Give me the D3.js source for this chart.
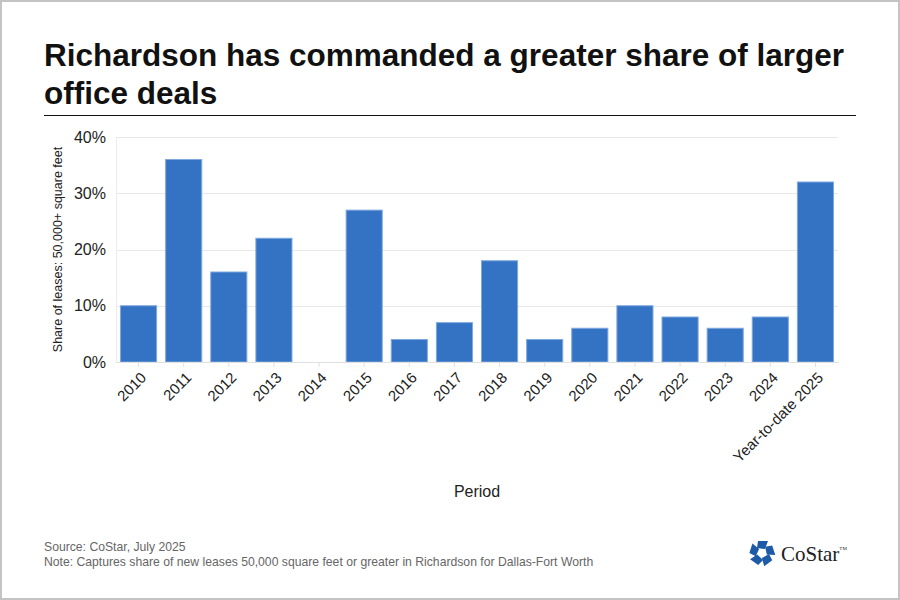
<!DOCTYPE html>
<html>
<head>
<meta charset="utf-8">
<script src="https://cdn.jsdelivr.net/npm/d3@7"></script>
<style>
  body { margin: 0; background: #fff; }
  svg { display: block; font-family: "Liberation Sans", Arial, sans-serif; }
</style>
</head>
<body>
<div id="chart"></div>
<script>
const periods = ["2010", "2011", "2012", "2013", "2014", "2015", "2016", "2017", "2018",
                 "2019", "2020", "2021", "2022", "2023", "2024", "Year-to-date 2025"];
const shares = [10, 36, 16, 22, 0, 27, 4, 7, 18, 4, 6, 10, 8, 6, 8, 32];
const yTicks = [0, 10, 20, 30, 40];

const W = 900, H = 600;
const margin = { top: 137, right: 62, bottom: 238, left: 116 };
const width = W - margin.left - margin.right;
const height = H - margin.top - margin.bottom;

const root = d3.select("#chart")
  .append("svg")
  .attr("width", W)
  .attr("height", H);

// outer frame
root.append("rect")
  .attr("x", 1).attr("y", 1)
  .attr("width", W - 2).attr("height", H - 2)
  .attr("fill", "none")
  .attr("stroke", "#c4c4c4")
  .attr("stroke-width", 2);

// title
const title = root.append("text")
  .attr("font-size", 31.5)
  .attr("font-weight", "bold")
  .attr("fill", "#111");
title.append("tspan").attr("x", 44).attr("y", 66).text("Richardson has commanded a greater share of larger");
title.append("tspan").attr("x", 44).attr("y", 104).text("office deals");

root.append("line")
  .attr("x1", 44).attr("x2", 856)
  .attr("y1", 115.5).attr("y2", 115.5)
  .attr("stroke", "#111")
  .attr("stroke-width", 1);

const svg = root.append("g")
  .attr("transform", `translate(${margin.left}, ${margin.top})`);

const x = d3.scaleBand()
  .domain(periods)
  .range([0, width])
  .paddingInner(0.2)
  .paddingOuter(0.1);

const y = d3.scaleLinear()
  .domain([0, 40])
  .range([height, 0]);

// gridlines
svg.append("g")
  .selectAll("line")
  .data(yTicks)
  .join("line")
  .attr("x1", 0).attr("x2", width)
  .attr("y1", d => Math.round(y(d)) + 0.5)
  .attr("y2", d => Math.round(y(d)) + 0.5)
  .attr("stroke", "#e8e8e8");

// left axis line
svg.append("line")
  .attr("x1", 0.5).attr("x2", 0.5)
  .attr("y1", 0).attr("y2", height)
  .attr("stroke", "#ececec");

// bars
svg.append("g")
  .selectAll("rect")
  .data(shares)
  .join("rect")
  .attr("x", (d, i) => x(periods[i]))
  .attr("y", d => y(d))
  .attr("width", x.bandwidth())
  .attr("height", d => height - y(d))
  .attr("fill", "#3472c4")
  .attr("stroke", "#7fa8de")
  .attr("stroke-width", 1);

// y axis
const yAxis = svg.append("g")
  .call(d3.axisLeft(y).tickValues(yTicks).tickFormat(d => d + "%").tickSize(0).tickPadding(10));
yAxis.select(".domain").remove();
yAxis.selectAll("text")
  .attr("font-size", 16)
  .attr("fill", "#222")
  .attr("font-family", "Liberation Sans, Arial, sans-serif");

// x axis
const xAxis = svg.append("g")
  .attr("transform", `translate(0, ${height})`)
  .call(d3.axisBottom(x).tickSize(5).tickSizeOuter(0));
xAxis.select(".domain").attr("stroke", "#e0e0e0");
xAxis.selectAll(".tick line").attr("stroke", "#e0e0e0");
xAxis.selectAll("text")
  .attr("font-size", 15)
  .attr("fill", "#222")
  .attr("font-family", "Liberation Sans, Arial, sans-serif")
  .attr("text-anchor", "end")
  .attr("dy", null)
  .attr("transform", "translate(3, 11) rotate(-45)");

// axis titles
root.append("text")
  .attr("transform", `translate(62, ${margin.top + height / 2}) rotate(-90)`)
  .attr("text-anchor", "middle")
  .attr("font-size", 12.5)
  .attr("fill", "#222")
  .text("Share of leases: 50,000+ square feet");

root.append("text")
  .attr("x", margin.left + width / 2)
  .attr("y", 497)
  .attr("text-anchor", "middle")
  .attr("font-size", 16)
  .attr("fill", "#222")
  .text("Period");

// footer
root.append("text")
  .attr("x", 44).attr("y", 551)
  .attr("font-size", 12.2)
  .attr("fill", "#666")
  .text("Source: CoStar, July 2025");
root.append("text")
  .attr("x", 44).attr("y", 566)
  .attr("font-size", 12.2)
  .attr("fill", "#666")
  .text("Note: Captures share of new leases 50,000 square feet or greater in Richardson for Dallas-Fort Worth");

// logo
const logo = root.append("g").attr("transform", "translate(762, 553)");
const piece = "M-4,-12 L6,-12 L3,-4 L-5,-5 Z";
d3.range(5).forEach(i => {
  logo.append("path")
    .attr("d", piece)
    .attr("fill", "#1f5aa6")
    .attr("transform", `rotate(${i * 72})`);
});
const brand = root.append("text")
  .attr("x", 781).attr("y", 561)
  .attr("font-family", "Liberation Serif, 'Times New Roman', serif")
  .attr("font-size", 21)
  .attr("fill", "#222")
  .text("CoStar");
brand.append("tspan")
  .attr("font-size", 5)
  .attr("dy", -11)
  .text("TM");
</script>
</body>
</html>
